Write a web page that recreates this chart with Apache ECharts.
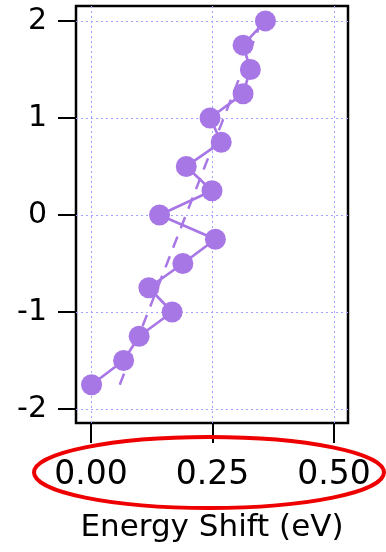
<!DOCTYPE html>
<html>
<head>
<meta charset="utf-8">
<script src="https://cdn.jsdelivr.net/npm/echarts@6/dist/echarts.min.js"></script>
<style>
html,body{margin:0;padding:0;background:#fff;}
#chart{width:386px;height:552px;}
</style>
</head>
<body>
<div id="chart"></div>
<script>
// Data
const yPositions = [-1.75, -1.5, -1.25, -1.0, -0.75, -0.5, -0.25, 0, 0.25, 0.5, 0.75, 1.0, 1.25, 1.5, 1.75, 2.0];
const energyShift = [0.001, 0.067, 0.099, 0.167, 0.119, 0.189, 0.256, 0.141, 0.249, 0.196, 0.268, 0.245, 0.313, 0.328, 0.313, 0.359];
const fitLineX = [0.059, 0.351];
const fitLineY = [-1.75, 2.0];
const xTicks = [0, 0.25, 0.5];
const xTickLabels = ['0.00', '0.25', '0.50'];
const yTicks = [-2, -1, 0, 1, 2];
const yTickLabels = ['-2', '-1', '0', '1', '2'];
const xTitle = 'Energy Shift (eV)';

const purple = '#a877e6';
const gridColor = '#a0a0ff';
const font = '"DejaVu Sans", sans-serif';

const chart = echarts.init(document.getElementById('chart'));

const gridLeft = 76, gridRight = 38, gridTop = 6, gridBottom = 129;

const option = {
  animation: false,
  grid: {
    left: gridLeft, right: gridRight, top: gridTop, bottom: gridBottom,
    show: true, borderColor: '#000', borderWidth: 2.5, backgroundColor: 'transparent'
  },
  xAxis: {
    type: 'value',
    min: -0.031, max: 0.529,
    axisLine: { show: false, onZero: false },
    axisTick: { show: true, inside: false, length: 20, lineStyle: { color: '#000', width: 2 }, customValues: xTicks },
    axisLabel: {
      customValues: xTicks,
      formatter: v => { const i = xTicks.findIndex(t => Math.abs(t - v) < 1e-9); return i >= 0 ? xTickLabels[i] : ''; },
      margin: 36, fontSize: 33, color: '#000', fontFamily: font
    },
    splitLine: { show: true, lineStyle: { color: gridColor, type: [2, 3], width: 1 } },
    name: xTitle,
    nameLocation: 'middle',
    nameGap: 105,
    nameTextStyle: { fontSize: 31, color: '#000', fontFamily: font, verticalAlign: 'middle' }
  },
  yAxis: {
    type: 'value',
    min: -2.144, max: 2.154,
    axisLine: { show: false, onZero: false },
    axisTick: { show: true, inside: false, length: 18, lineStyle: { color: '#000', width: 2 }, customValues: yTicks },
    axisLabel: {
      customValues: yTicks,
      formatter: v => { const i = yTicks.findIndex(t => Math.abs(t - v) < 1e-9); return i >= 0 ? yTickLabels[i] : ''; },
      margin: 29, fontSize: 30, color: '#000', fontFamily: font
    },
    splitLine: { show: true, lineStyle: { color: gridColor, type: [2, 3], width: 1 } }
  },
  series: [
    {
      type: 'line',
      data: fitLineX.map((x, i) => [x, fitLineY[i]]),
      showSymbol: false,
      symbol: 'none',
      lineStyle: { color: purple, width: 2.5, type: [12, 9] },
      z: 2
    },
    {
      type: 'line',
      data: energyShift.map((x, i) => [x, yPositions[i]]),
      symbol: 'circle',
      symbolSize: 21,
      showAllSymbol: true,
      lineStyle: { color: purple, width: 2.7 },
      itemStyle: { color: purple },
      clip: false,
      z: 3
    }
  ],
  graphic: [
    {
      type: 'ellipse',
      shape: { cx: 209, cy: 472.5, rx: 175, ry: 35.5 },
      style: { fill: 'none', stroke: '#ee0000', lineWidth: 4 },
      z: 100
    }
  ]
};

chart.setOption(option);
</script>
</body>
</html>
